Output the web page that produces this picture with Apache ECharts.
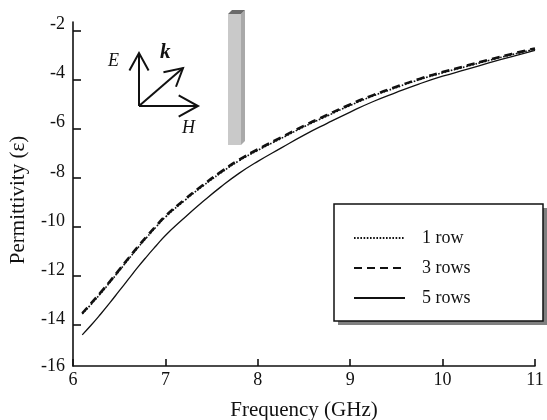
<!DOCTYPE html>
<html>
<head>
<meta charset="utf-8">
<script src="https://cdn.jsdelivr.net/npm/echarts@6/dist/echarts.min.js"></script>
<style>
  html, body { margin: 0; padding: 0; background: #fff; }
  #chart { width: 547px; height: 420px; }
</style>
</head>
<body>
<div id="chart"></div>
<script>
// Frequency sweep (GHz) and effective permittivity for 1, 3 and 5 rows
const freq = [6.1, 6.2, 6.3, 6.4, 6.5, 6.6, 6.7, 6.8, 6.9, 7.0, 7.2, 7.4, 7.6, 7.8, 8.0,
              8.25, 8.5, 8.75, 9.0, 9.25, 9.5, 9.75, 10.0, 10.25, 10.5, 10.75, 11.0];
const oneRow = [-13.55, -13.14, -12.71, -12.26, -11.79, -11.32, -10.86, -10.42, -10.00, -9.60,
                -8.95, -8.35, -7.80, -7.30, -6.88, -6.40, -5.92, -5.48, -5.05, -4.66,
                -4.32, -4.00, -3.72, -3.47, -3.22, -2.98, -2.76];
const threeRows = [-13.52, -13.10, -12.67, -12.22, -11.75, -11.28, -10.82, -10.38, -9.96, -9.56,
                   -8.91, -8.31, -7.76, -7.26, -6.84, -6.36, -5.88, -5.44, -5.01, -4.63,
                   -4.29, -3.97, -3.69, -3.44, -3.19, -2.95, -2.73];
const fiveRows = [-14.40, -13.99, -13.55, -13.09, -12.61, -12.13, -11.65, -11.20, -10.77, -10.35,
                  -9.65, -8.99, -8.37, -7.81, -7.33, -6.79, -6.26, -5.78, -5.32, -4.89,
                  -4.52, -4.17, -3.86, -3.59, -3.32, -3.06, -2.81];

const xTicks = [6, 7, 8, 9, 10, 11];
const yTicks = [-14, -12, -10, -8, -6, -4, -2];
const yBottom = -15.67;   // axis floor, labelled -16
const yTop = -1.65;

const seriesNames = ['1 row', '3 rows', '5 rows'];

const FONT = '"Liberation Serif", "DejaVu Serif", serif';
const INK = '#111';

const pairs = ys => freq.map((f, i) => [f, ys[i]]);

const chart = echarts.init(document.getElementById('chart'), null, { renderer: 'canvas' });

// open V arrow helper for the field-vector inset
function arrow(x0, y0, x1, y1, head) {
  const a = Math.atan2(y1 - y0, x1 - x0);
  const spread = 0.5;
  const p1 = [x1 - head * Math.cos(a - spread), y1 - head * Math.sin(a - spread)];
  const p2 = [x1 - head * Math.cos(a + spread), y1 - head * Math.sin(a + spread)];
  const style = { stroke: INK, lineWidth: 2, fill: null };
  return [
    { type: 'line', shape: { x1: x0, y1: y0, x2: x1, y2: y1 }, style },
    { type: 'polyline', shape: { points: [p1, [x1, y1], p2] }, style }
  ];
}

const decorations = [].concat(
  arrow(139, 106, 139, 53, 20),
  arrow(139, 106, 198, 106, 22),
  arrow(139, 106, 183, 68, 20),
  [
    { type: 'text', x: 108, y: 52, style: { text: 'E', font: 'italic 18px ' + FONT, fill: INK } },
    { type: 'text', x: 160, y: 42, style: { text: 'k', font: 'italic bold 21px ' + FONT, fill: INK } },
    { type: 'text', x: 182, y: 119, style: { text: 'H', font: 'italic 18px ' + FONT, fill: INK } },
    // slab seen edge-on
    { type: 'rect', shape: { x: 228, y: 14, width: 13, height: 131 }, style: { fill: '#c9c9c9' } },
    { type: 'polygon', shape: { points: [[241, 14], [245, 10], [245, 141], [241, 145]] }, style: { fill: '#a9a9a9' } },
    { type: 'polygon', shape: { points: [[228, 14], [232, 10], [245, 10], [241, 14]] }, style: { fill: '#6a6a6a' } },
    // legend frame with drop shadow
    { type: 'rect', z: 1, shape: { x: 338, y: 208, width: 209, height: 117 }, style: { fill: '#808080' } },
    { type: 'rect', z: 2, shape: { x: 334, y: 204, width: 209, height: 117 }, style: { fill: '#fff', stroke: INK, lineWidth: 1.5 } }
  ]
);

chart.setOption({
  animation: false,
  backgroundColor: '#fff',
  grid: { left: 73, right: 12, top: 22, bottom: 54, containLabel: false, outerBoundsMode: 'none' },
  xAxis: {
    type: 'value',
    min: xTicks[0],
    max: xTicks[xTicks.length - 1],
    interval: 1,
    name: 'Frequency (GHz)',
    nameLocation: 'middle',
    nameGap: 34,
    nameTextStyle: { fontFamily: FONT, fontSize: 21, color: INK },
    axisLine: { lineStyle: { color: INK, width: 1.6 } },
    axisTick: { inside: true, length: 7, lineStyle: { color: INK, width: 1.6 } },
    axisLabel: { fontFamily: FONT, fontSize: 18, color: INK, margin: 5 },
    splitLine: { show: false }
  },
  yAxis: {
    type: 'value',
    min: yBottom,
    max: yTop,
    name: 'Permittivity (\u03b5)',
    nameLocation: 'middle',
    nameRotate: 90,
    nameGap: 44,
    nameTextStyle: { fontFamily: FONT, fontSize: 21, color: INK, padding: [0, 12, 0, 0] },
    axisLine: { lineStyle: { color: INK, width: 1.6 } },
    axisTick: { inside: true, length: 8, customValues: yTicks, lineStyle: { color: INK, width: 1.6 } },
    axisLabel: {
      customValues: [yBottom].concat(yTicks),
      margin: 8,
      formatter: v => v < -15 ? '{lo|-16}' : '{hi|' + Math.round(v) + '}',
      rich: {
        lo: { fontFamily: FONT, fontSize: 18, color: INK },
        hi: { fontFamily: FONT, fontSize: 18, color: INK, padding: [0, 0, 12, 0] }
      }
    },
    splitLine: { show: false }
  },
  legend: {
    orient: 'vertical',
    left: 334,
    top: 204,
    z: 5,
    padding: [24, 72, 13, 19],
    itemWidth: 51,
    itemHeight: 14,
    itemGap: 10,
    itemStyle: { opacity: 0 },
    selectedMode: false,
    textStyle: { fontFamily: FONT, fontSize: 18, color: INK, lineHeight: 20, padding: [0, 0, 0, 12] },
    data: seriesNames
  },
  graphic: decorations,
  series: [
    {
      name: seriesNames[0], type: 'line', data: pairs(oneRow), smooth: 0.5,
      symbol: 'none', lineStyle: { color: INK, width: 1.6, type: [1.6, 1.6] }
    },
    {
      name: seriesNames[1], type: 'line', data: pairs(threeRows), smooth: 0.5,
      symbol: 'none', lineStyle: { color: INK, width: 2.6, type: [8, 5] }
    },
    {
      name: seriesNames[2], type: 'line', data: pairs(fiveRows), smooth: 0.5,
      symbol: 'none', lineStyle: { color: INK, width: 1.3 }
    }
  ]
});
</script>
</body>
</html>
